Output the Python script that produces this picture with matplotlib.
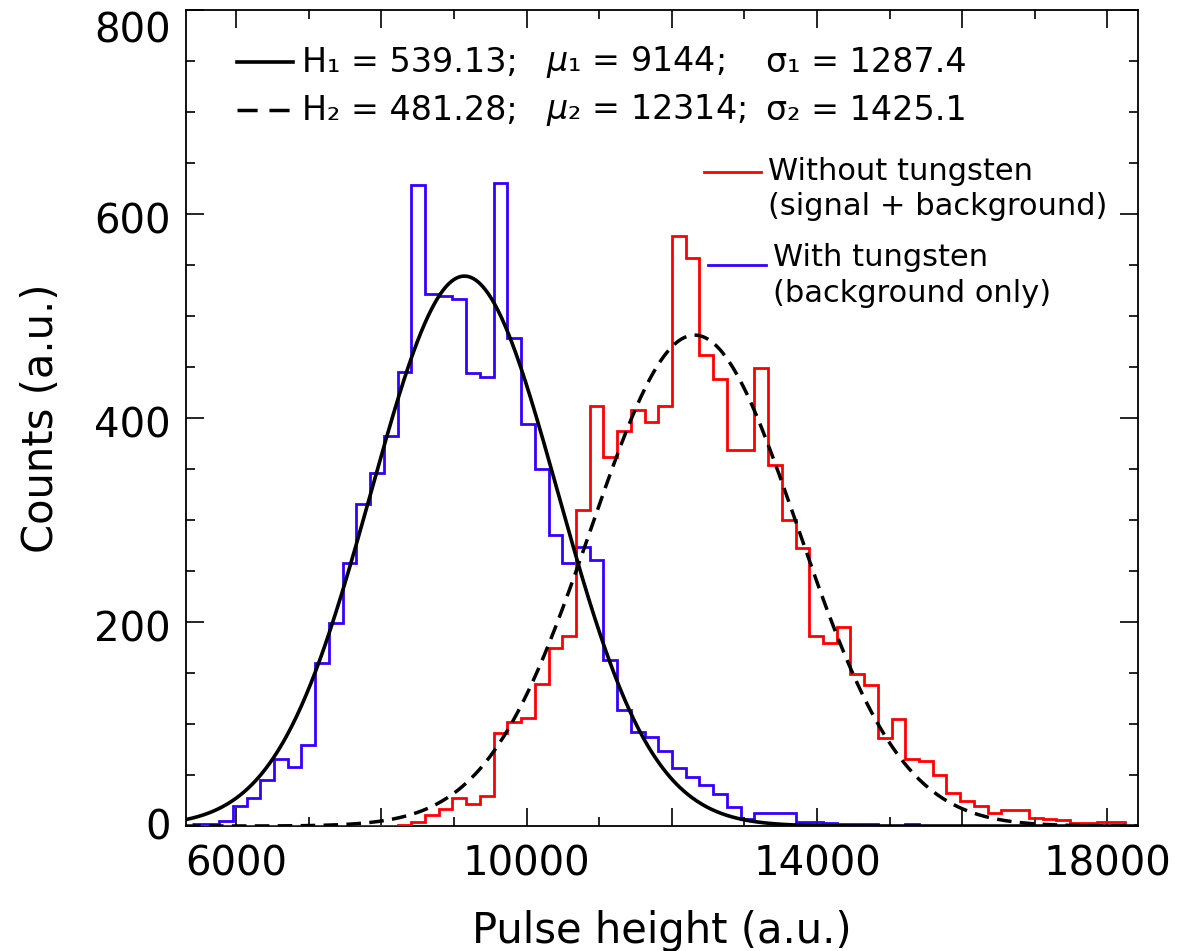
"""
Pulse-height spectra with / without tungsten, with Gaussian fits.
  python plot.py  -> out.png
"""
import numpy as np
import matplotlib
matplotlib.use("Agg")
import matplotlib.pyplot as plt
from matplotlib.ticker import MultipleLocator, FuncFormatter
from matplotlib.transforms import ScaledTranslation

# histogram binning (a.u.)
BIN_LO, BIN_W = 5388, 189

# with tungsten (background only)
blue_counts = [2, 2, 5, 20, 27, 45, 66, 58, 79, 160, 199,
               258, 316, 346, 382, 445, 628, 522, 520, 517, 444, 440, 630, 478,
               394, 350, 285, 258, 274, 261, 163, 114, 92, 87,
               74, 57, 48, 40, 31, 19, 7, 13, 13, 13,
               4, 4, 3, 2, 2, 2, 0, 0, 2, 0]
# without tungsten (signal + background)
red_counts = [0] * 15 + [1, 4, 11, 17, 27, 22, 29, 91, 102, 106, 139, 175, 186,
                         310, 412, 362, 387, 408, 396, 412, 578, 557, 462, 438,
                         369, 369, 449, 354, 300, 273, 186, 179, 195, 149, 138,
                         86, 105, 66, 64, 50, 32, 25, 20, 13, 16, 16, 8, 7, 6,
                         3, 3, 4, 4, 0]

# Gaussian fit parameters
fit_H = [539.13, 481.28]
fit_mu = [9144, 12314]
fit_sig = [1287.4, 1425.1]
fit_txt = ["H\u2081 = 539.13;", r"$\mu$" + "\u2081 = 9144;", "\u03c3\u2081 = 1287.4",
           "H\u2082 = 481.28;", r"$\mu$" + "\u2082 = 12314;", "\u03c3\u2082 = 1425.1"]

XLIM = (5310, 18420)
YLIM = (0, 800)
RED, BLUE = "#ff0000", "#3300ff"

fig = plt.figure(figsize=(11.85, 9.51), dpi=100)
ax = fig.add_axes([0.157, 0.1314, 0.8033, 0.8581])

edges_b = BIN_LO + BIN_W * np.arange(len(blue_counts) + 1)
edges_r = BIN_LO + BIN_W * np.arange(len(red_counts) + 1)
ax.stairs(blue_counts, edges_b, baseline=None, color=BLUE, lw=2.0, zorder=2)
ax.stairs(red_counts, edges_r, baseline=None, color=RED, lw=2.0, zorder=3)

x = np.linspace(XLIM[0], XLIM[1], 800)
g1 = fit_H[0] * np.exp(-(x - fit_mu[0]) ** 2 / (2 * fit_sig[0] ** 2))
g2 = fit_H[1] * np.exp(-(x - fit_mu[1]) ** 2 / (2 * fit_sig[1] ** 2))
ax.plot(x, g1, color="black", lw=2.6, zorder=4)
ax.plot(x, g2, color="black", lw=2.5, dashes=(4.2, 2.4), zorder=4)

ax.set_xlim(*XLIM); ax.set_ylim(*YLIM)
ax.xaxis.set_major_locator(MultipleLocator(2000))
ax.xaxis.set_minor_locator(MultipleLocator(1000))
ax.xaxis.set_major_formatter(FuncFormatter(
    lambda v, p: f"{v:.0f}" if (v - 6000) % 4000 == 0 else ""))
ax.yaxis.set_major_locator(MultipleLocator(200))
ax.yaxis.set_minor_locator(MultipleLocator(50))
ax.tick_params(which="both", direction="in", top=True, right=True, width=1.2)
ax.tick_params(which="major", length=13, labelsize=29)
ax.tick_params(which="minor", length=6.5)
ax.tick_params(axis="y", pad=11)
ax.tick_params(axis="x", pad=13)
for s in ax.spines.values():
    s.set_linewidth(1.3)

ax.set_xlabel("Pulse height (a.u.)", fontsize=30)
ax.set_ylabel("Counts (a.u.)", fontsize=30)
ax.xaxis.set_label_coords(0.5, -0.103)
ax.yaxis.set_label_coords(-0.13, 0.5)

# fit legend (top left)
tr = ax.transAxes
ax.plot([0.054, 0.112], [0.936, 0.936], color="black", lw=2.6, transform=tr)
ax.plot([0.054, 0.112], [0.877, 0.877], color="black", lw=2.5,
        dashes=(5.8, 3.4), transform=tr)
xs = [0.122, 0.378, 0.609]
for row, ay in enumerate([0.936, 0.877]):
    for j in range(3):
        ax.text(xs[j], ay, fit_txt[3 * row + j], transform=tr, fontsize=24,
                va="center", ha="left")

# data legend (right)
ax.plot([0.544, 0.604], [0.8015, 0.8015], color=RED, lw=2.0, transform=tr)
ax.text(0.611, 0.8015, "Without tungsten", transform=tr, fontsize=22, va="center")
ax.text(0.611, 0.7586, "(signal + background)", transform=tr, fontsize=22, va="center")
ax.plot([0.548, 0.609], [0.6875, 0.6875], color=BLUE, lw=2.0, transform=tr)
ax.text(0.617, 0.697, "With tungsten", transform=tr, fontsize=22, va="center")
ax.text(0.617, 0.653, "(background only)", transform=tr, fontsize=22, va="center")

# y tick labels sit a little below their ticks, the top one kept inside the frame
fig.canvas.draw()
for t in ax.yaxis.get_major_ticks():
    loc = t.get_loc()
    dy = 17 if loc >= 800 else (-2 if loc <= 0 else 4)
    t.label1.set_transform(t.label1.get_transform()
                           + ScaledTranslation(0, -dy / 100, fig.dpi_scale_trans))

fig.savefig("out.png", dpi=100)
